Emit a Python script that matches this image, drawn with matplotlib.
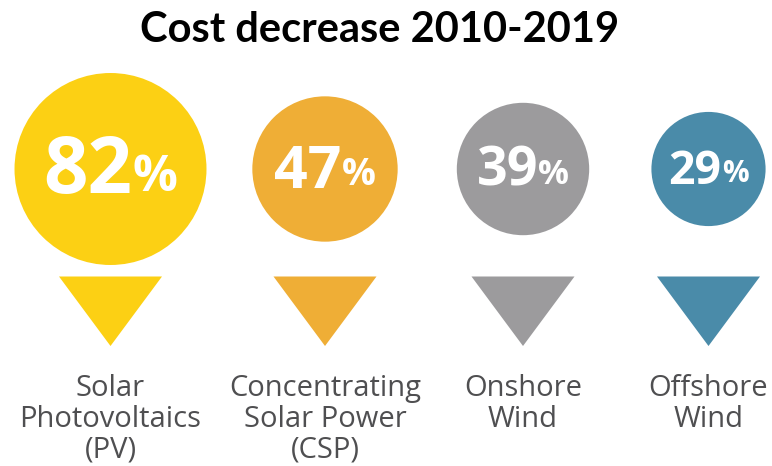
import matplotlib
matplotlib.use('Agg')
import matplotlib.pyplot as plt
from matplotlib.patches import Circle, Polygon
import numpy as np

# ---- data ----
title = "Cost decrease 2010-2019"
categories = ["Solar\nPhotovoltaics\n(PV)",
              "Concentrating\nSolar Power\n(CSP)",
              "Onshore\nWind",
              "Offshore\nWind"]
decrease_pct = [82, 47, 39, 29]
colors = ["#FCD014", "#EFAE36", "#9C9B9D", "#4A8BA9"]

# ---- layout ----
W, H = 772, 466
fig = plt.figure(figsize=(W / 100, H / 100), dpi=100)
ax = fig.add_axes([0, 0, 1, 1])
ax.set_xlim(0, W)
ax.set_ylim(H, 0)
ax.set_aspect('equal')
ax.axis('off')

centers_x = [110.5, 325, 523, 708.5]
cy = 169
k = 10.6            # circle radius = k * sqrt(value)  (area ~ value)
tri_top, tri_h, tri_w = 276.5, 69.5, 103
label_y0, label_dy = 396, 31
label_color = "#4F4F51"

renderer = fig.canvas.get_renderer()

for cx, v, c, lab in zip(centers_x, decrease_pct, colors, categories):
    r = k * np.sqrt(v)
    ax.add_patch(Circle((cx, cy), r, facecolor=c, edgecolor='none'))
    ax.add_patch(Polygon([[cx - tri_w / 2, tri_top], [cx + tri_w / 2, tri_top],
                          [cx, tri_top + tri_h]], closed=True,
                         facecolor=c, edgecolor='none'))
    fs = 0.585 * r
    base = cy + 0.255 * r
    t1 = ax.text(0, base, f"{v}", fontsize=fs, color='white', weight='bold',
                 family='Open Sans', ha='left', va='baseline')
    t2 = ax.text(0, base - 0.03 * r, "%", fontsize=fs * 0.64, color='white',
                 weight='bold', family='Open Sans', ha='left', va='baseline')
    w1 = t1.get_window_extent(renderer).width
    w2 = t2.get_window_extent(renderer).width
    x0 = cx - (w1 + w2) / 2
    t1.set_x(x0)
    t2.set_x(x0 + w1)
    for i, line in enumerate(lab.split("\n")):
        ax.text(cx, label_y0 + i * label_dy, line, ha='center', va='baseline',
                fontsize=21, color=label_color, family='Open Sans',
                weight='medium')

ax.text(380, 42, title, ha='center', va='baseline', fontsize=30,
        weight='bold', family='Lato', color='black')

fig.savefig("out.png", dpi=100)
